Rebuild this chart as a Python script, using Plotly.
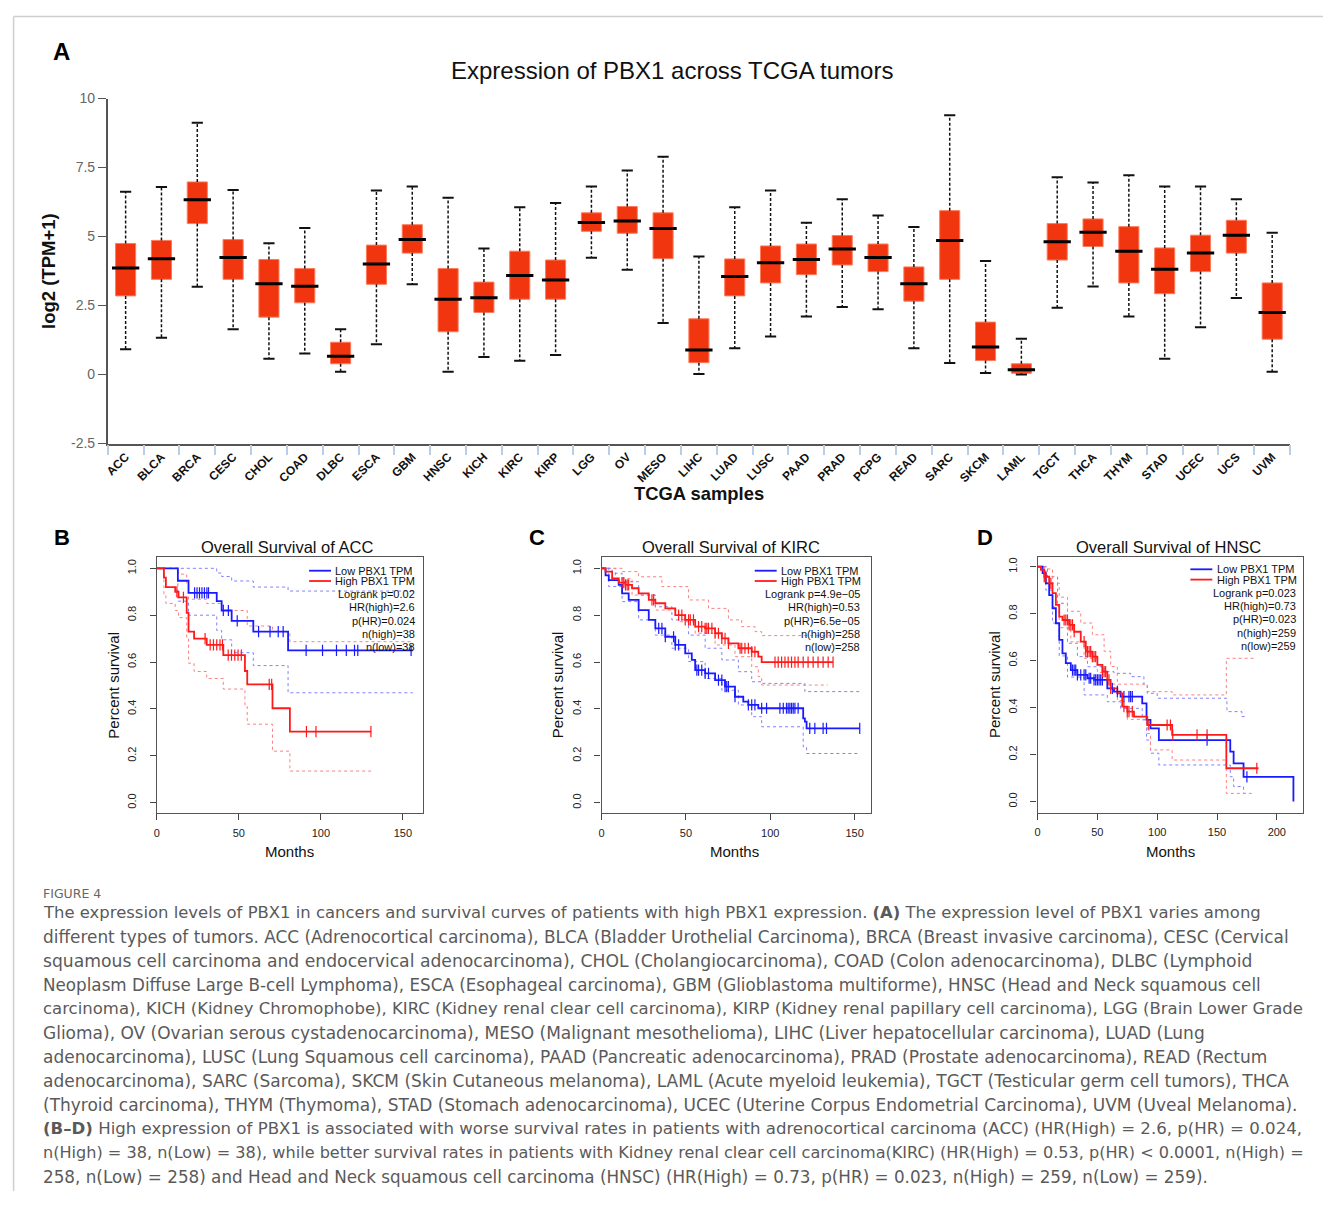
import plotly.graph_objects as go

# Page geometry: the browser keeps its default 8px body margin, so the figure is
# 16px smaller than the window.  The photographed page is squeezed vertically
# (measured: image_y = 0.98675 * page_y + 8; x is unchanged), so positions below are
# given in the final picture's pixel coordinates and converted back here.
OFF = 8
W, H = 1331 - 2 * OFF, 1207 - 2 * OFF
S, B = 0.98675, 8.0
def px(x): return (x - OFF) / W
def py(y): return 1 - ((y - B) / S - OFF) / H

# ---------------- Panel A data ----------------
categories = ["ACC", "BLCA", "BRCA", "CESC", "CHOL", "COAD", "DLBC", "ESCA", "GBM", "HNSC", "KICH",
              "KIRC", "KIRP", "LGG", "OV", "MESO", "LIHC", "LUAD", "LUSC", "PAAD", "PRAD", "PCPG",
              "READ", "SARC", "SKCM", "LAML", "TGCT", "THCA", "THYM", "STAD", "UCEC", "UCS", "UVM"]
upper_whisker = [6.62, 6.80, 9.12, 6.69, 4.76, 5.31, 1.64, 6.67, 6.81, 6.41, 4.57,
                 6.06, 6.22, 6.81, 7.39, 7.89, 4.28, 6.06, 6.67, 5.50, 6.35, 5.76,
                 5.35, 9.40, 4.11, 1.30, 7.15, 6.96, 7.22, 6.81, 6.81, 6.35, 5.14]
q3 = [4.75, 4.86, 6.98, 4.89, 4.17, 3.84, 1.17, 4.69, 5.43, 3.84, 3.35,
      4.47, 4.15, 5.86, 6.09, 5.86, 2.02, 4.19, 4.66, 4.73, 5.04, 4.73,
      3.90, 5.94, 1.90, 0.39, 5.47, 5.64, 5.36, 4.59, 5.05, 5.59, 3.32]
median = [3.86, 4.20, 6.33, 4.24, 3.29, 3.20, 0.66, 4.01, 4.89, 2.73, 2.78,
          3.59, 3.43, 5.51, 5.56, 5.29, 0.89, 3.55, 4.05, 4.17, 4.55, 4.24,
          3.29, 4.86, 1.00, 0.17, 4.81, 5.16, 4.47, 3.82, 4.40, 5.05, 2.25]
q1 = [2.85, 3.45, 5.47, 3.45, 2.08, 2.60, 0.39, 3.27, 4.40, 1.55, 2.25,
      2.73, 2.73, 5.19, 5.12, 4.20, 0.43, 2.85, 3.32, 3.62, 3.97, 3.73,
      2.66, 3.45, 0.51, 0.05, 4.15, 4.64, 3.32, 2.93, 3.73, 4.40, 1.28]
lower_whisker = [0.92, 1.33, 3.18, 1.64, 0.57, 0.76, 0.10, 1.10, 3.27, 0.10, 0.64,
                 0.50, 0.71, 4.23, 3.80, 1.87, 0.02, 0.95, 1.38, 2.10, 2.45, 2.37,
                 0.95, 0.42, 0.06, 0.00, 2.42, 3.19, 2.10, 0.57, 1.71, 2.77, 0.10]
y_ticks_A = [-2.5, 0, 2.5, 5, 7.5, 10]
y_ticktext_A = ["-2.5", "0", "2.5", "5", "7.5", "10"]

# ---------------- Panel B (ACC) ----------------
B_low_t = [0, 12.8, 19.3, 36.5, 39.5, 45.6, 58.8, 80.0]
B_low_s = [1.0, 0.947, 0.895, 0.86, 0.82, 0.776, 0.73, 0.65]
B_low_end = 156
B_low_cens = [23, 24.5, 26, 27.5, 29, 30.5, 31.5, 40.5, 43.6, 49, 62, 69, 74, 77, 91, 101, 109.5, 115.5, 120.5, 122.5, 155]
B_low_up_t = [0, 36.5, 39.5, 45.6, 58.8, 80.0]
B_low_up_s = [1.0, 0.98, 0.965, 0.946, 0.92, 0.903]
B_low_lo_t = [0, 12.8, 19.3, 36.5, 39.5, 45.6, 58.8, 80.0]
B_low_lo_s = [1.0, 0.86, 0.80, 0.735, 0.695, 0.64, 0.585, 0.469]
B_high_t = [0, 4.3, 5.5, 11.2, 13.2, 18.2, 19.3, 22.7, 30.4, 40.5, 53.7, 55.1, 70.5, 81.1]
B_high_s = [1.0, 0.96, 0.92, 0.90, 0.876, 0.81, 0.73, 0.70, 0.673, 0.63, 0.562, 0.505, 0.403, 0.303]
B_high_end = 130.7
B_high_cens = [12.2, 16.2, 29.4, 32.5, 34.5, 36.5, 38.5, 40.0, 43.5, 45.5, 47.5, 49.5, 51.5, 68.5, 70.0, 91.2, 97.0, 130.5]
B_high_up_t = [0, 13.2, 18.2, 19.3, 30.4, 40.5, 55.1, 70.5, 81.1]
B_high_up_s = [1.0, 0.975, 0.93, 0.868, 0.85, 0.82, 0.754, 0.73, 0.687]
B_high_up_end = 156
B_high_lo_t = [0, 4.3, 5.5, 11.2, 13.2, 18.2, 19.3, 22.7, 30.4, 40.5, 53.7, 55.1, 70.5, 81.1]
B_high_lo_s = [1.0, 0.89, 0.85, 0.82, 0.79, 0.70, 0.595, 0.56, 0.53, 0.485, 0.41, 0.335, 0.22, 0.135]

# ---------------- Panel C (KIRC) ----------------
C_high_t = [0, 2.4, 6.3, 10.2, 14.2, 18.1, 22.0, 28.0, 31.9, 37.8, 43.7, 49.6, 55.5, 61.4, 67.3, 71.3, 75.2, 81.1, 89.0, 92.9, 94.9]
C_high_s = [1.0, 0.986, 0.957, 0.939, 0.929, 0.915, 0.893, 0.865, 0.851, 0.829, 0.80, 0.78, 0.751, 0.744, 0.723, 0.701, 0.68, 0.659, 0.644, 0.623, 0.60]
C_high_end = 137.2
C_high_cens = [12.2, 13.2, 14.2, 15.2, 16.1, 29.9, 30.9, 45.7, 47.6, 49.6, 51.6, 52.6, 54.5, 57.5, 59.4, 61.4, 62.4, 63.4,
               65.4, 67.3, 69.3, 71.3, 73.2, 75.2, 82.1, 83.1, 85.0, 87.0, 89.0, 90.9, 102.8, 104.7, 106.7, 108.7,
               110.6, 112.6, 114.6, 116.5, 119.5, 122.4, 125.4, 128.3, 131.3, 134.3, 137.2]
C_high_up_t = [0, 12.2, 22.0, 35.8, 51.6, 63.4, 75.2, 83.1, 91.0, 94.9]
C_high_up_s = [1.0, 0.986, 0.964, 0.922, 0.865, 0.829, 0.78, 0.751, 0.73, 0.713]
C_high_lo_t = [0, 8.3, 18.1, 31.9, 45.7, 55.5, 67.3, 79.1, 89.0, 92.9, 94.9]
C_high_lo_s = [1.0, 0.957, 0.886, 0.822, 0.772, 0.723, 0.673, 0.623, 0.58, 0.538, 0.502]
C_high_lo_end = 134
C_low_t = [0, 2.4, 4.3, 10.2, 12.2, 16.1, 22.0, 28.0, 31.9, 37.8, 43.7, 49.6, 53.5, 55.5, 61.4, 67.3, 73.2, 79.1, 84.0, 87.0, 92.9, 119.5, 120.5, 121.5]
C_low_s = [1.0, 0.97, 0.95, 0.929, 0.893, 0.865, 0.822, 0.78, 0.744, 0.708, 0.673, 0.637, 0.609, 0.566, 0.552, 0.523, 0.495, 0.452, 0.431, 0.417, 0.403, 0.36, 0.346, 0.317]
C_low_end = 153
C_low_cens = [33.9, 35.8, 37.8, 42.7, 43.7, 45.7, 56.5, 57.5, 59.4, 61.4, 63.4, 69.3, 71.3, 73.2, 74.2, 75.2, 79.1, 87.0,
              89.0, 90.9, 94.9, 97.8, 105.7, 107.7, 109.6, 110.6, 111.6, 112.6, 113.6, 114.6, 116.5, 123.4, 126.4,
              131.3, 133.3, 153]
C_low_up_t = [0, 6.3, 12.2, 22.0, 31.9, 41.7, 51.6, 61.4, 71.3, 81.1, 89.0, 94.9, 120.5]
C_low_up_s = [1.0, 0.979, 0.943, 0.886, 0.836, 0.78, 0.715, 0.659, 0.609, 0.559, 0.516, 0.509, 0.474]
C_low_lo_t = [0, 4.3, 12.2, 22.0, 31.9, 41.7, 51.6, 61.4, 71.3, 81.1, 89.0, 94.9, 119.5, 121.5]
C_low_lo_s = [1.0, 0.922, 0.858, 0.78, 0.715, 0.659, 0.602, 0.53, 0.48, 0.417, 0.367, 0.324, 0.239, 0.21]

# ---------------- Panel D (HNSC) ----------------
D_low_t = [0, 4.2, 6.9, 9.7, 12.5, 15.3, 18.1, 20.8, 23.6, 27.8, 33.3, 41.7, 47.2, 58.3, 63.9, 69.4, 87.5, 91.1, 94.4, 101.4, 161.1, 163.9, 172.2, 213.9]
D_low_s = [1.0, 0.972, 0.929, 0.879, 0.823, 0.759, 0.688, 0.631, 0.589, 0.56, 0.539, 0.525, 0.518, 0.482, 0.468, 0.447, 0.418, 0.348, 0.312, 0.262, 0.213, 0.163, 0.105, 0.0]
D_low_end = 213.9
D_low_cens = [29.2, 30.6, 31.9, 33.3, 36.1, 38.9, 40.3, 43.1, 44.4, 47.2, 48.6, 50.0, 51.4, 52.8, 54.2, 62.5, 66.7,
              72.2, 76.4, 77.8, 79.2, 141.7, 175.0]
D_low_up_t = [0, 8.3, 16.7, 25.0, 33.3, 41.7, 55.6, 63.9, 77.8, 88.9, 91.7, 100.0, 158.3, 170.8]
D_low_up_s = [1.0, 0.957, 0.844, 0.674, 0.617, 0.574, 0.553, 0.546, 0.532, 0.496, 0.461, 0.44, 0.383, 0.362]
D_low_up_end = 173.6
D_low_lo_t = [0, 6.9, 12.5, 18.1, 25.0, 38.9, 58.3, 69.4, 87.5, 91.1, 94.4, 101.4, 161.1, 163.9, 172.2]
D_low_lo_s = [1.0, 0.90, 0.76, 0.62, 0.53, 0.454, 0.425, 0.397, 0.348, 0.262, 0.206, 0.156, 0.106, 0.064, 0.035]
D_low_lo_end = 173.6
D_high_t = [0, 2.8, 5.6, 9.7, 12.5, 15.3, 18.1, 20.8, 26.4, 30.6, 36.1, 40.3, 45.8, 50.0, 54.2, 58.3, 61.1, 66.7, 70.8, 75.0, 80.6, 91.7, 112.5, 157.8]
D_high_s = [1.0, 0.986, 0.957, 0.929, 0.887, 0.837, 0.787, 0.773, 0.752, 0.723, 0.681, 0.638, 0.617, 0.582, 0.553, 0.518, 0.482, 0.461, 0.404, 0.383, 0.362, 0.326, 0.284, 0.142]
D_high_end = 184.7
D_high_cens = [5.6, 6.9, 11.1, 22.2, 23.6, 25.0, 26.4, 27.8, 29.2, 30.6, 38.9, 40.3, 41.7, 43.1, 44.4, 45.8, 47.2,
               48.6, 54.2, 55.6, 56.9, 59.7, 61.1, 72.2, 75.0, 76.4, 79.2, 93.0, 108.3, 111.1, 113.0, 133.3, 141.7, 183.3]
D_high_up_t = [0, 5.6, 12.5, 18.1, 25.0, 36.1, 45.8, 55.6, 61.1, 66.7, 91.7, 112.5, 157.8]
D_high_up_s = [1.0, 0.99, 0.93, 0.87, 0.81, 0.76, 0.71, 0.64, 0.575, 0.50, 0.468, 0.454, 0.61]
D_high_ci_end = 180.6
D_high_lo_t = [0, 5.6, 12.5, 18.1, 27.8, 38.9, 50.0, 58.3, 66.7, 70.8, 75.0, 91.7, 94.4, 112.5, 157.8]
D_high_lo_s = [1.0, 0.93, 0.83, 0.74, 0.68, 0.61, 0.55, 0.50, 0.43, 0.40, 0.35, 0.29, 0.22, 0.177, 0.035]

BLUE, RED = "#1a1aff", "#ff1a1a"
BLUE_CI, RED_CI = "#8080ff", "#ff8080"
FONT = "Liberation Sans, Arial, sans-serif"

fig = go.Figure()

# ---------- Panel A: boxes ----------
box_h = [a - b for a, b in zip(q3, q1)]
fig.add_trace(go.Bar(x=categories, y=box_h, base=q1, width=0.56,
                     marker=dict(color="#f0350f", line=dict(color="#ff7a5a", width=1)),
                     xaxis="x", yaxis="y", hoverinfo="skip"))
wx, wy = [], []
for c, up, hi, lo, dn in zip(categories, upper_whisker, q3, q1, lower_whisker):
    wx += [c, c, None, c, c, None]
    wy += [hi, up, None, lo, dn, None]
fig.add_trace(go.Scatter(x=wx, y=wy, mode="lines", line=dict(color="#111", width=1.5, dash="3px,2px"),
                         xaxis="x", yaxis="y", hoverinfo="skip"))
fig.add_trace(go.Scatter(x=categories + categories, y=upper_whisker + lower_whisker, mode="markers",
                         marker=dict(symbol="line-ew", size=8, line=dict(color="#111", width=2)),
                         xaxis="x", yaxis="y", hoverinfo="skip"))
fig.add_trace(go.Scatter(x=categories, y=median, mode="markers",
                         marker=dict(symbol="line-ew", size=19.5, line=dict(color="#000", width=3)),
                         xaxis="x", yaxis="y", hoverinfo="skip"))

# ---------- survival helpers ----------
def at(t, s, x):
    v = s[0]
    for ti, si in zip(t, s):
        if ti <= x:
            v = si
    return v

def add_step(t, s, end, color, ax, dash=None, width=1.8):
    fig.add_trace(go.Scatter(x=list(t) + [end], y=list(s) + [s[-1]], mode="lines", line_shape="hv",
                             line=dict(color=color, width=width, dash=dash),
                             xaxis="x" + ax, yaxis="y" + ax, hoverinfo="skip"))

def add_cens(t, s, cens, color, ax):
    fig.add_trace(go.Scatter(x=cens, y=[at(t, s, c) for c in cens], mode="markers",
                             marker=dict(symbol="line-ns", size=8, line=dict(color=color, width=1.2)),
                             xaxis="x" + ax, yaxis="y" + ax, hoverinfo="skip"))

# Panel B
add_step(B_low_up_t, B_low_up_s, B_low_end, BLUE_CI, "2", "dot", 1)
add_step(B_low_lo_t, B_low_lo_s, B_low_end, BLUE_CI, "2", "dot", 1)
add_step(B_high_up_t, B_high_up_s, B_high_up_end, RED_CI, "2", "dot", 1)
add_step(B_high_lo_t, B_high_lo_s, B_high_end, RED_CI, "2", "dot", 1)
add_step(B_low_t, B_low_s, B_low_end, BLUE, "2")
add_step(B_high_t, B_high_s, B_high_end, RED, "2")
add_cens(B_low_t, B_low_s, B_low_cens, BLUE, "2")
add_cens(B_high_t, B_high_s, B_high_cens, RED, "2")

# Panel C
add_step(C_high_up_t, C_high_up_s, C_high_end, RED_CI, "3", "dot", 1)
add_step(C_high_lo_t, C_high_lo_s, C_high_lo_end, RED_CI, "3", "dot", 1)
add_step(C_low_up_t, C_low_up_s, C_low_end, BLUE_CI, "3", "dot", 1)
add_step(C_low_lo_t, C_low_lo_s, C_low_end, BLUE_CI, "3", "dot", 1)
add_step(C_low_t, C_low_s, C_low_end, BLUE, "3")
add_step(C_high_t, C_high_s, C_high_end, RED, "3")
add_cens(C_low_t, C_low_s, C_low_cens, BLUE, "3")
add_cens(C_high_t, C_high_s, C_high_cens, RED, "3")

# Panel D
add_step(D_low_up_t, D_low_up_s, D_low_up_end, BLUE_CI, "4", "dot", 1)
add_step(D_low_lo_t, D_low_lo_s, D_low_lo_end, BLUE_CI, "4", "dot", 1)
add_step(D_high_up_t, D_high_up_s, D_high_ci_end, RED_CI, "4", "dot", 1)
add_step(D_high_lo_t, D_high_lo_s, D_high_ci_end, RED_CI, "4", "dot", 1)
add_step(D_low_t, D_low_s, D_low_end, BLUE, "4")
add_step(D_high_t, D_high_s, D_high_end, RED, "4")
add_cens(D_low_t, D_low_s, D_low_cens, BLUE, "4")
add_cens(D_high_t, D_high_s, D_high_cens, RED, "4")

# ---------- axes ----------
layout = dict(
    width=W, height=H, margin=dict(l=0, r=0, t=0, b=0),
    paper_bgcolor="white", plot_bgcolor="white", showlegend=False,
    font=dict(family=FONT, color="#222"),
    xaxis=dict(domain=[px(104), px(1290)], anchor="y", type="category",
               categoryorder="array", categoryarray=categories, range=[-0.5, 32.5],
               tickson="boundaries", ticks="outside", ticklen=10, tickcolor="#b9cde6", tickwidth=1.5,
               showline=True, linecolor="#555", linewidth=1.5, showgrid=False, zeroline=False,
               tickangle=-45, tickfont=dict(size=12, color="#111", family=FONT, weight="bold")),
    yaxis=dict(domain=[py(443.5), py(98.5)], anchor="x", range=[-2.5, 10],
               tickvals=y_ticks_A, ticktext=y_ticktext_A, ticks="outside", ticklen=8,
               tickcolor="#555", showline=True, linecolor="#555", linewidth=1.5,
               showgrid=False, zeroline=False, tickfont=dict(size=14, color="#666")),
)

def km_axes(n, x0, x1, xmax, ytop, ybot, ymin, ymaxv, xt):
    layout["xaxis" + n] = dict(domain=[px(x0), px(x1)], anchor="y" + n, range=[0, xmax],
                               tickvals=xt, ticks="outside", ticklen=6, tickcolor="#444",
                               showline=True, mirror=True, linecolor="#555", linewidth=1.2,
                               showgrid=False, zeroline=False, ticklabelstandoff=3,
                               tickfont=dict(size=11, color="#222"))
    layout["yaxis" + n] = dict(domain=[py(ybot), py(ytop)], anchor="x" + n, range=[ymin, ymaxv],
                               tickvals=[0, 0.2, 0.4, 0.6, 0.8, 1.0],
                               ticktext=["0.0", "0.2", "0.4", "0.6", "0.8", "1.0"],
                               ticks="outside", ticklen=6, tickcolor="#444", tickangle=-90,
                               showline=True, mirror=True, linecolor="#555", linewidth=1.2,
                               showgrid=False, zeroline=False, ticklabelstandoff=9,
                               tickfont=dict(size=11, color="#222"))

km_axes("2", 153.3, 420, 162.1, 557.3, 813.3, -0.045, 1.047, [0, 50, 100, 150])
km_axes("3", 599.3, 870, 159.9, 557.3, 813.3, -0.045, 1.047, [0, 50, 100, 150])
km_axes("4", 1036.7, 1303.3, 222.2, 557.0, 812.7, -0.047, 1.041, [0, 50, 100, 150, 200])

fig.update_layout(**layout)

# ---------- annotations ----------
ann = []
def text(x, y, s, size, color="#111", xanchor="center", bold=False, family=FONT, angle=0):
    # annotation boxes carry a little padding; nudge so the glyphs land on x
    if xanchor == "left":
        x -= 4
    elif xanchor == "right":
        x += 1
    ann.append(dict(x=px(x), y=py(y), xref="paper", yref="paper", text=s, showarrow=False,
                    xanchor=xanchor, yanchor="middle", textangle=angle,
                    font=dict(size=size, color=color, family=family, weight="bold" if bold else "normal")))

text(58, 51, "A", 24, "#000", bold=True)
text(670, 70, "Expression of PBX1 across TCGA tumors", 24, "#111")
text(44, 271, "log2 (TPM+1)", 18.5, "#111", bold=True, angle=-90)
text(697, 493, "TCGA samples", 18.4, "#111", bold=True)

text(58, 537, "B", 22, "#000", bold=True)
text(535, 537, "C", 22, "#000", bold=True)
text(984, 537, "D", 22, "#000", bold=True)

text(284, 547, "Overall Survival of ACC", 16.5)
text(729, 547, "Overall Survival of KIRC", 16.5)
text(1168, 547, "Overall Survival of HNSC", 16.5)

for cx in (286, 733, 1170):
    text(cx, 852, "Months", 15)
text(110, 685, "Percent survival", 15, angle=-90)
text(556, 685, "Percent survival", 15, angle=-90)
text(994, 685, "Percent survival", 15, angle=-90)

legends = [
    (306, 328, 334, 413, 570.7, ["Logrank p=0.02", "HR(high)=2.6", "p(HR)=0.024", "n(high)=38", "n(low)=38"]),
    (753, 775, 781, 860, 570.7, ["Logrank p=4.9e\u221205", "HR(high)=0.53", "p(HR)=6.5e\u221205", "n(high)=258", "n(low)=258"]),
    (1190, 1212, 1219, 1297, 569.3, ["Logrank p=0.023", "HR(high)=0.73", "p(HR)=0.023", "n(high)=259", "n(low)=259"]),
]
shapes = []
for lx0, lx1, tx, rx, ly, stats in legends:
    shapes.append(dict(type="line", xref="paper", yref="paper", x0=px(lx0), x1=px(lx1),
                       y0=py(ly), y1=py(ly), line=dict(color=BLUE, width=1.8)))
    shapes.append(dict(type="line", xref="paper", yref="paper", x0=px(lx0), x1=px(lx1),
                       y0=py(ly + 10.3), y1=py(ly + 10.3), line=dict(color=RED, width=1.8)))
    text(tx, ly, "Low PBX1 TPM", 11, "#111", xanchor="left")
    text(tx, ly + 10.3, "High PBX1 TPM", 11, "#111", xanchor="left")
    for i, s in enumerate(stats):
        text(rx, ly + 23.5 + i * 13.3, s, 11, "#111", xanchor="right")

# page frame lines
top_y = min(py(8.6), 0.9995)
left_x = max(px(9.6), 0.0008)
shapes.append(dict(type="line", xref="paper", yref="paper", x0=left_x, x1=1, y0=top_y, y1=top_y,
                   line=dict(color="#cfcfcf", width=1.5)))
shapes.append(dict(type="line", xref="paper", yref="paper", x0=left_x, x1=left_x, y0=top_y, y1=0,
                   line=dict(color="#cfcfcf", width=1.5)))

# caption
CAP = "DejaVu Sans, Open Sans, sans-serif"
cap_lines = [
    "The expression levels of PBX1 in cancers and survival curves of patients with high PBX1 expression. <b>(A)</b> The expression level of PBX1 varies among",
    "different types of tumors. ACC (Adrenocortical carcinoma), BLCA (Bladder Urothelial Carcinoma), BRCA (Breast invasive carcinoma), CESC (Cervical",
    "squamous cell carcinoma and endocervical adenocarcinoma), CHOL (Cholangiocarcinoma), COAD (Colon adenocarcinoma), DLBC (Lymphoid",
    "Neoplasm Diffuse Large B-cell Lymphoma), ESCA (Esophageal carcinoma), GBM (Glioblastoma multiforme), HNSC (Head and Neck squamous cell",
    "carcinoma), KICH (Kidney Chromophobe), KIRC (Kidney renal clear cell carcinoma), KIRP (Kidney renal papillary cell carcinoma), LGG (Brain Lower Grade",
    "Glioma), OV (Ovarian serous cystadenocarcinoma), MESO (Malignant mesothelioma), LIHC (Liver hepatocellular carcinoma), LUAD (Lung",
    "adenocarcinoma), LUSC (Lung Squamous cell carcinoma), PAAD (Pancreatic adenocarcinoma), PRAD (Prostate adenocarcinoma), READ (Rectum",
    "adenocarcinoma), SARC (Sarcoma), SKCM (Skin Cutaneous melanoma), LAML (Acute myeloid leukemia), TGCT (Testicular germ cell tumors), THCA",
    "(Thyroid carcinoma), THYM (Thymoma), STAD (Stomach adenocarcinoma), UCEC (Uterine Corpus Endometrial Carcinoma), UVM (Uveal Melanoma).",
    "<b>(B\u2013D)</b> High expression of PBX1 is associated with worse survival rates in patients with adrenocortical carcinoma (ACC) (HR(High) = 2.6, p(HR) = 0.024,",
    "n(High) = 38, n(Low) = 38), while better survival rates in patients with Kidney renal clear cell carcinoma(KIRC) (HR(High) = 0.53, p(HR) &lt; 0.0001, n(High) =",
    "258, n(Low) = 258) and Head and Neck squamous cell carcinoma (HNSC) (HR(High) = 0.73, p(HR) = 0.023, n(High) = 259, n(Low) = 259).",
]
cap_sizes = [16.45, 16.9, 17.2, 16.75, 16.5, 17.0, 17.0, 17.0, 17.0, 16.6, 16.1, 16.8]
text(41, 894, "FIGURE 4", 12.5, "#666", xanchor="left", family=CAP)
for i, (line, sz) in enumerate(zip(cap_lines, cap_sizes)):
    text(41, 913 + 24 * i, line, sz, "#5a5a5a", xanchor="left", family=CAP)

fig.update_layout(annotations=ann, shapes=shapes)
fig.write_html("out.html", config={"displayModeBar": False})
